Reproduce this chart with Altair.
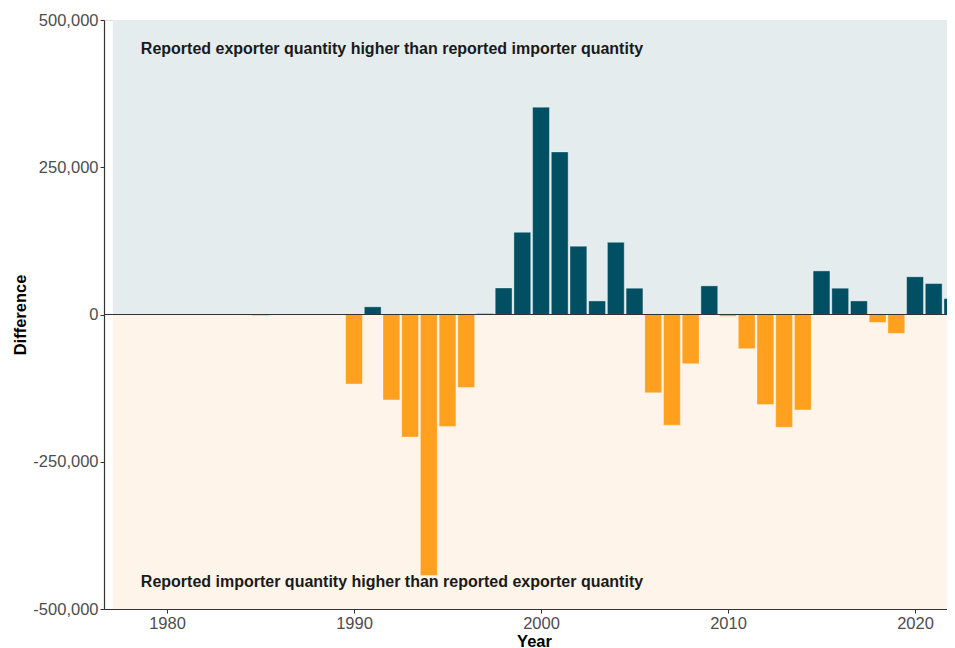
import altair as alt
import pandas as pd

years = [1985, 1990, 1991, 1992, 1993, 1994, 1995, 1996, 1997, 1998, 1999,
         2000, 2001, 2002, 2003, 2004, 2005, 2006, 2007, 2008, 2009, 2010,
         2011, 2012, 2013, 2014, 2015, 2016, 2017, 2018, 2019, 2020, 2021, 2022]
differences = [-2000, -118000, 13000, -145000, -208000, -443000, -190000, -124000,
               1500, 45000, 139500, 352000, 276000, 116000, 23000, 122500, 44600,
               -133000, -188000, -83600, 48600, -3000, -58000, -153000, -191500,
               -162000, 74000, 44600, 23000, -13500, -32000, 64000, 52500, 27000]

region_labels = ["Reported exporter quantity higher than reported importer quantity",
                 "Reported importer quantity higher than reported exporter quantity"]
region_y_from = [0, -500000]
region_y_to = [500000, 0]
region_label_y = [451000, -455000]
region_x_from = [1977.1, 1977.1]
region_x_to = [2023, 2023]
region_label_x = [1978.6, 1978.6]
region_colors = ["#E4ECEE", "#FEF4E9"]

x_ticks = [1980, 1990, 2000, 2010, 2020]
y_ticks = [-500000, -250000, 0, 250000, 500000]
x_domain = [1976.63, 2021.71]
y_domain = [-500000, 500000]

POS = "#004F63"
NEG = "#FFA01E"

df = pd.DataFrame({"Year": years, "Difference": differences})
regions = pd.DataFrame({
    "label": region_labels, "y1": region_y_from, "y2": region_y_to,
    "ly": region_label_y, "x1": region_x_from, "x2": region_x_to,
    "lx": region_label_x, "color": region_colors,
})

xs = alt.Scale(domain=x_domain, nice=False, zero=False)
ys = alt.Scale(domain=y_domain, nice=False, zero=False)

x_axis = alt.Axis(values=x_ticks, grid=False, title="Year",
                  labelExpr="format(datum.value, 'd')",
                  titleFontWeight="bold", titleFontSize=16.5, titleColor="#000000",
                  titleX=430, titleY=32, titleBaseline="middle", titleAlign="center",
                  labelFontSize=16.5, labelColor="#4D4D4D", labelPadding=2,
                  tickSize=4, tickColor="#333333", domainColor="#333333",
                  domainWidth=1.2,
                  labelFont="Liberation Sans", titleFont="Liberation Sans")
y_axis = alt.Axis(values=y_ticks, grid=False, title="Difference",
                  labelExpr="(datum.value < 0 ? '-' : '') + format(abs(datum.value), ',')",
                  titleFontWeight="bold", titleFontSize=16.5, titleColor="#000000",
                  titleX=-84, titleY=294.5, titleAngle=-90, titleBaseline="middle",
                  titleAlign="center",
                  labelFontSize=16.5, labelColor="#4D4D4D", labelPadding=2,
                  tickSize=4, tickColor="#333333", domainColor="#333333",
                  domainWidth=1.2,
                  labelFont="Liberation Sans", titleFont="Liberation Sans")

bg = alt.Chart(regions).mark_rect(clip=True).encode(
    x=alt.X("x1:Q", scale=xs, axis=x_axis),
    x2="x2:Q",
    y=alt.Y("y1:Q", scale=ys, axis=y_axis),
    y2="y2:Q",
    color=alt.Color("color:N", scale=None),
)

bars = alt.Chart(df).transform_calculate(
    xa="datum.Year - 0.45", xb="datum.Year + 0.45"
).mark_rect(clip=True, stroke="white", strokeWidth=0.6, strokeOpacity=0.6).encode(
    x=alt.X("xa:Q", scale=xs, axis=x_axis),
    x2="xb:Q",
    y=alt.Y("Difference:Q", scale=ys, axis=y_axis),
    y2=alt.datum(0),
    color=alt.condition(alt.datum.Difference > 0, alt.value(POS), alt.value(NEG)),
)

zero = alt.Chart(df).mark_rule(color="#333333", strokeWidth=1).encode(
    y=alt.datum(0, scale=ys, axis=y_axis)
)

labels = alt.Chart(regions).mark_text(
    align="left", baseline="middle", fontWeight="bold", fontSize=16,
    font="Liberation Sans", color="#1A1A1A"
).encode(
    x=alt.X("lx:Q", scale=xs, axis=x_axis),
    y=alt.Y("ly:Q", scale=ys, axis=y_axis),
    text="label:N",
)

chart = alt.layer(bg, bars, zero, labels).properties(
    width=843, height=589,
    autosize=alt.AutoSizeParams(type="none"),
    padding={"left": 96, "top": 12, "right": 0, "bottom": 46},
).configure_view(stroke=None).configure(background="white")

chart.save("out.html", embed_options={"renderer": "svg", "actions": False})
